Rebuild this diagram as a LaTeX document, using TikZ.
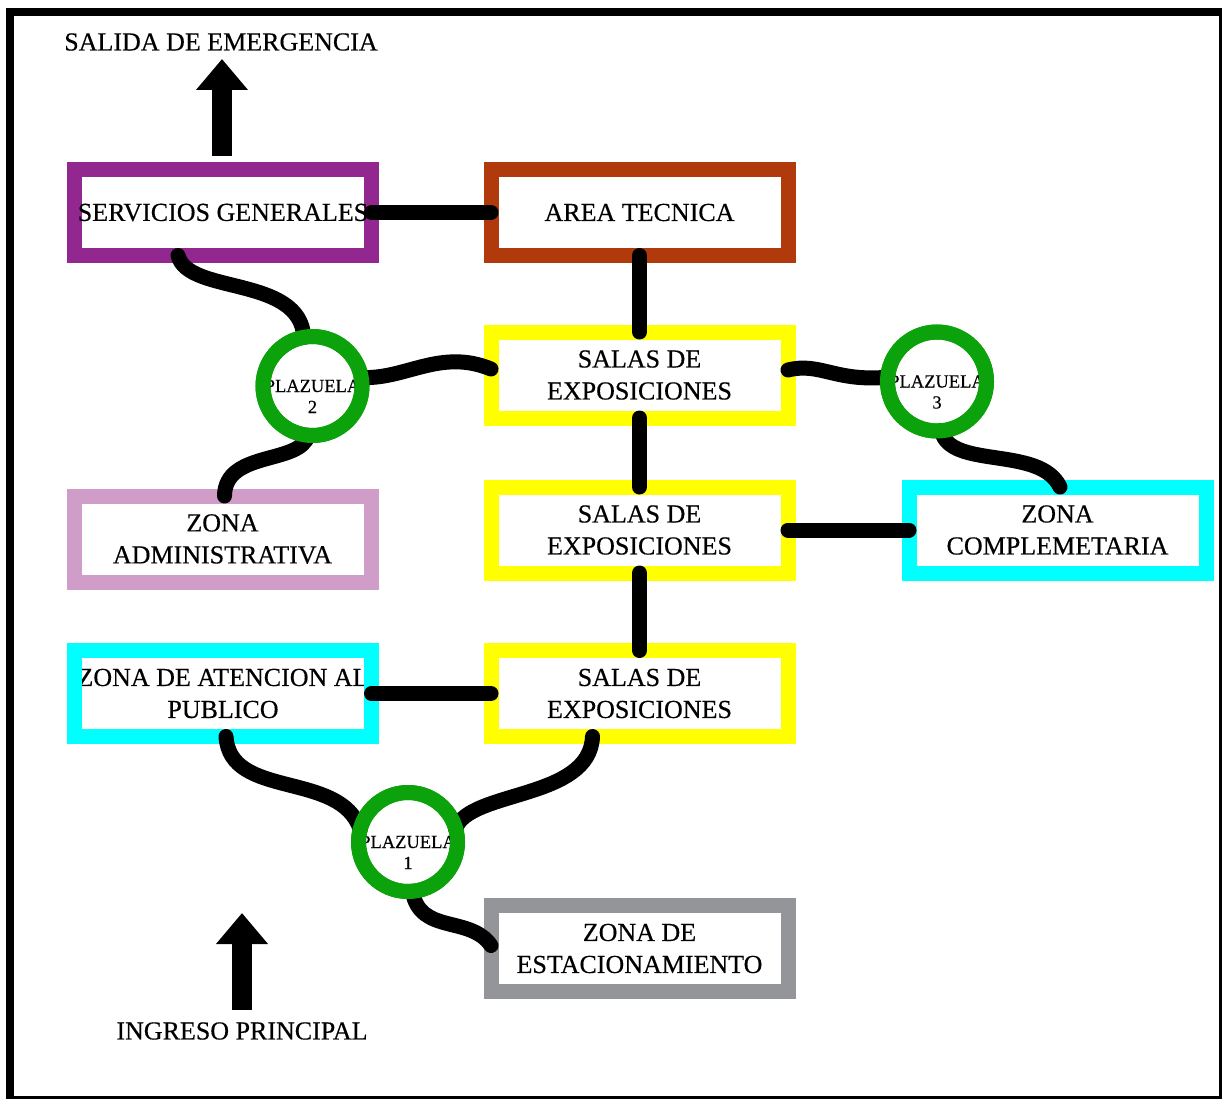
\documentclass[tikz,border=0pt]{standalone}
\usepackage{fontspec}
\setmainfont{Liberation Serif}[FakeBold=0.4]
\usetikzlibrary{arrows.meta,calc}
\definecolor{cpurple}{RGB}{146,40,143}
\definecolor{cbrown}{RGB}{176,58,12}
\definecolor{cpink}{RGB}{208,157,200}
\definecolor{cgray}{RGB}{147,149,152}
\definecolor{cgreen}{RGB}{12,162,12}
\definecolor{cyellow}{RGB}{255,255,0}
\definecolor{ccyan}{RGB}{0,255,255}
\newcommand\plztext[1]{\makebox[0pt]{\raisebox{-27pt}[0pt][0pt]{\begin{tabular}[b]{@{}c@{}}PLAZUELA\\#1\end{tabular}}}}
\tikzset{
  box/.style={draw=#1, line width=15pt, fill=white, minimum width=297pt, minimum height=86pt,
    inner sep=0pt, outer sep=0pt, align=center, font=\fontsize{26}{32}\selectfont},
  plaza/.style={circle, draw=cgreen, line width=15pt, fill=white, minimum size=99pt,
    inner sep=0pt, outer sep=0pt, font=\fontsize{18.5}{21}\selectfont},
  ring/.style={draw=cgreen, line width=15pt},
  link/.style={draw=black, line width=15pt, line cap=round},
  bigarrow/.style={draw=black, line width=20pt, line cap=butt, -{Triangle[width=50pt,length=31pt]}},
  freetext/.style={font=\fontsize{26}{32}\selectfont, inner sep=0pt},
}
\begin{document}
\begin{tikzpicture}[x=1pt,y=-1pt]
\useasboundingbox (0,0) rectangle (1223,1099);
% frame
\fill[black] (6,8) rectangle (1222,1099);
\fill[white] (14,16) rectangle (1219,1096);

% boxes
\node[box=cpurple] (sg) at (223,212.5) {SERVICIOS GENERALES};
\node[box=cbrown] (at) at (639.5,212.5) {AREA TECNICA};
\node[box=cyellow] (s1) at (639.5,375) {SALAS DE\\EXPOSICIONES};
\node[box=cyellow] (s2) at (639.5,530) {SALAS DE\\EXPOSICIONES};
\node[box=cyellow] (s3) at (639.5,693.5) {SALAS DE\\EXPOSICIONES};
\node[box=cpink] (za) at (222.5,539) {ZONA\\ADMINISTRATIVA};
\node[box=ccyan] (ap) at (223,693.5) {ZONA DE ATENCION AL\\PUBLICO};
\node[box=ccyan] (zc) at (1057.5,530) {ZONA\\COMPLEMETARIA};
\node[box=cgray] (est) at (639.5,948.5) {ZONA DE\\ESTACIONAMIENTO};
\draw[draw=ccyan, line width=15pt] (ap.north west) rectangle (ap.south east);

% plazuelas
\node[plaza] (p2) at (312.5,386) {\plztext{2}};
\node[plaza] (p3) at (937,381.5) {\plztext{3}};
\node[plaza] (p1) at (408,842) {\plztext{1}};

% straight connectors
\draw[link] (sg.east) -- (at.west);
\draw[link] (at.south) -- (s1.north);
\draw[link] (s1.south) -- (s2.north);
\draw[link] (s2.south) -- (s3.north);
\draw[link] (s2.east) -- (zc.west);
\draw[link] (ap.east) -- (s3.west);

% wavy connectors
\draw[link] ($(sg.south)+(-45,0)$) .. controls (188,295) and (300,275) .. (p2.100);
\draw[link] (p2.-95) .. controls (300,465) and (225,450) .. ($(za.north)+(2,0)$);
\draw[link] (p2.10) .. controls (405,380) and (440,348) .. ($(s1.west)+(0,-6)$);
\draw[link] ($(s1.east)+(0,-5)$) .. controls (820,362) and (835,382) .. (p3.175);
\draw[link] (p3.-85) .. controls (950,470) and (1040,445) .. ($(zc.north)+(2.5,0)$);
\draw[link] ($(ap.south)+(3,0)$) .. controls (230,800) and (340,770) .. (p1.165);
\draw[link] (p1.16) .. controls (470,790) and (590,800) .. ($(s3.south)+(-47,0)$);
\draw[link] (p1.-85) .. controls (420,935) and (470,915) .. ($(est.west)+(0,-3)$);

% rings drawn over connector ends and text
\draw[ring] (p1.center) circle[radius=49.5];
\draw[ring] (p2.center) circle[radius=49.5];
\draw[ring] (p3.center) circle[radius=49.5];

% arrows
\coordinate (exitpt) at (222,59);
\draw[bigarrow] ($(sg.north)+(-1,-13.5)$) -- (exitpt);
\coordinate (entrybase) at (242,1010);
\coordinate (entrypt) at (242,913);
\draw[bigarrow] (entrybase) -- (entrypt);

% free texts
\node[freetext] (salida) at (221,42) {SALIDA DE EMERGENCIA};
\node[freetext] (ingreso) at (242,1031) {INGRESO PRINCIPAL};
\end{tikzpicture}
\end{document}
